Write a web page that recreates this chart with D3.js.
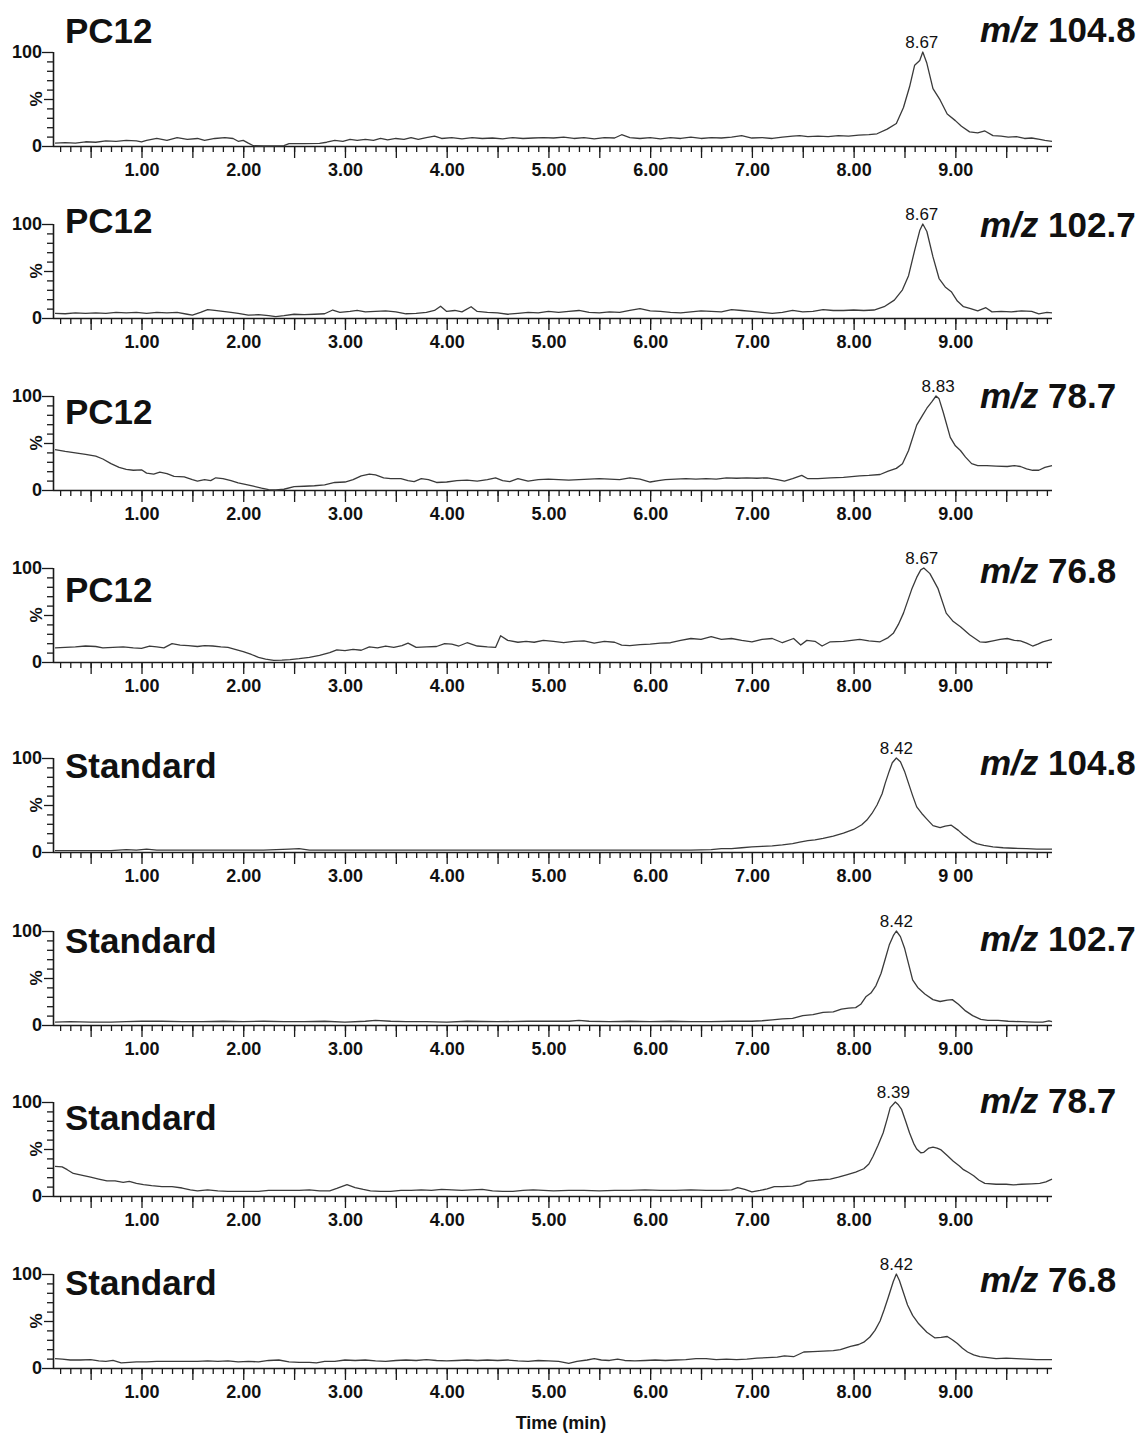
<!DOCTYPE html>
<html>
<head>
<meta charset="utf-8">
<script src="https://cdn.jsdelivr.net/npm/d3@7"></script>
<style>
  html, body { margin: 0; padding: 0; background: #fff; }
  svg { display: block; }
  text { font-family: "Liberation Sans", Arial, Helvetica, sans-serif; fill: #111; }
</style>
</head>
<body>
<svg id="chart" width="1146" height="1435"></svg>
<script>
// ---------------- DATA ----------------
const panelTitles = ["PC12", "PC12", "PC12", "PC12", "Standard", "Standard", "Standard", "Standard"];
const mzValues = ["104.8", "102.7", "78.7", "76.8", "104.8", "102.7", "78.7", "76.8"];
const peakTimes = [8.67, 8.67, 8.83, 8.67, 8.42, 8.42, 8.39, 8.42];
const peakLabels = ["8.67", "8.67", "8.83", "8.67", "8.42", "8.42", "8.39", "8.42"];
const xTickLabels = ["1.00", "2.00", "3.00", "4.00", "5.00", "6.00", "7.00", "8.00", "9.00"];
const xTickLabelsP5 = ["1.00", "2.00", "3.00", "4.00", "5.00", "6.00", "7.00", "8.00", "9 00"];
const yTickLabels = { 0: "0", 100: "100" };
const xAxisTitle = "Time (min)";
const yAxisTitle = "%";

// [time (min), relative intensity (%)]
const pc12_1048 = [[0.15,3],[0.25,3.5],[0.35,3],[0.45,4.5],[0.55,4],[0.65,5.5],[0.75,5],[0.85,6],[0.95,5.5],[1.0,4.5],[1.05,6],[1.15,8],[1.25,6],[1.35,9],[1.45,7],[1.55,8],[1.62,6],[1.72,8],[1.82,9],[1.9,8],[1.95,5],[2.0,6],[2.05,3],[2.1,0.3],[2.2,0],[2.3,0.2],[2.4,0.5],[2.45,2.5],[2.6,2.5],[2.75,2.8],[2.82,4],[2.9,6],[2.98,5],[3.05,7],[3.12,6],[3.2,7],[3.28,6],[3.35,8],[3.42,6.5],[3.5,8],[3.58,7],[3.65,9],[3.72,7],[3.8,9],[3.88,10.5],[3.95,8],[4.05,9],[4.15,7.5],[4.25,9],[4.35,8],[4.45,8.5],[4.55,7.5],[4.65,9],[4.75,8],[4.85,8.5],[4.95,9],[5.05,8.5],[5.15,9.5],[5.25,8],[5.35,9],[5.45,7.5],[5.55,9],[5.65,8.5],[5.72,12],[5.8,9],[5.9,8],[6.0,9],[6.1,7.5],[6.2,9],[6.3,8],[6.4,9.5],[6.5,8],[6.6,9],[6.7,8.5],[6.8,9.5],[6.9,11],[7.0,8.5],[7.1,9],[7.2,8],[7.3,9.5],[7.4,10.5],[7.47,11],[7.55,10],[7.65,10.5],[7.75,10],[7.85,11],[7.95,10.5],[8.05,11.5],[8.15,12],[8.23,13],[8.33,18],[8.42,24],[8.49,41],[8.55,63],[8.60,86],[8.65,91],[8.68,100],[8.72,88],[8.78,61],[8.85,49],[8.92,34],[9.0,27],[9.06,21],[9.14,15],[9.22,14],[9.29,16],[9.37,11],[9.45,10.5],[9.52,9.5],[9.60,10],[9.68,8],[9.75,8.5],[9.83,7],[9.88,6],[9.95,5]];

const pc12_1027 = [[0.15,5],[0.25,4.5],[0.35,5.5],[0.45,5],[0.55,5.5],[0.65,5],[0.75,6],[0.85,5.5],[0.95,6],[1.05,5],[1.15,6],[1.25,5.5],[1.35,6],[1.45,4],[1.5,3],[1.58,6],[1.65,9],[1.72,8],[1.8,7],[1.88,6],[1.95,5],[2.05,3],[2.15,3.5],[2.25,2.5],[2.32,1.5],[2.4,2.5],[2.5,4],[2.6,3.5],[2.7,4],[2.8,4.5],[2.88,8.5],[2.95,6],[3.05,7],[3.12,8],[3.2,6.5],[3.3,7],[3.4,7.5],[3.5,6.5],[3.6,4.5],[3.7,5],[3.8,6],[3.88,8],[3.94,12.5],[4.0,7],[4.08,8],[4.15,6.5],[4.24,12],[4.3,7],[4.4,6],[4.5,5.5],[4.6,4],[4.7,5],[4.8,6],[4.9,5.5],[5.0,7],[5.1,6],[5.2,7],[5.3,8],[5.4,6],[5.5,5.5],[5.6,6.5],[5.7,6],[5.8,8],[5.9,10],[6.0,7.5],[6.1,7],[6.2,6],[6.3,5.5],[6.4,6.5],[6.5,7.5],[6.6,7],[6.7,6.5],[6.8,9],[6.9,8],[7.0,7],[7.1,6],[7.2,5],[7.3,6],[7.4,8],[7.5,6.5],[7.6,7],[7.7,9],[7.8,8],[7.9,8],[8.0,8.5],[8.1,8],[8.2,8.5],[8.3,12],[8.4,19],[8.48,30],[8.54,45],[8.6,72],[8.65,93],[8.68,100],[8.72,92],[8.78,65],[8.84,42],[8.9,33],[8.96,28],[9.02,18],[9.08,12],[9.15,10],[9.22,7.5],[9.3,11],[9.36,6.5],[9.45,7],[9.55,6.5],[9.65,7.5],[9.75,7],[9.82,4.5],[9.9,6],[9.95,5.5]];

const pc12_787 = [[0.15,43],[0.25,41],[0.35,39.5],[0.45,38],[0.55,36],[0.62,33],[0.7,28],[0.78,24],[0.85,22],[0.92,21],[1.0,21.5],[1.05,18],[1.12,17],[1.18,19],[1.25,17.5],[1.32,14.5],[1.42,14],[1.5,11],[1.55,9.5],[1.62,11],[1.68,10],[1.73,13],[1.8,12],[1.88,10],[1.95,7.5],[2.02,6],[2.1,4],[2.18,2],[2.25,0.5],[2.32,0],[2.4,0.8],[2.5,3.5],[2.6,4],[2.7,4.5],[2.8,5.5],[2.9,8],[3.0,8.5],[3.08,11],[3.16,15],[3.24,17],[3.3,16],[3.38,13],[3.45,12],[3.55,12],[3.62,10],[3.68,9],[3.75,12],[3.82,11],[3.9,8],[4.0,8.5],[4.1,10],[4.2,10.5],[4.3,9.5],[4.4,11],[4.48,13],[4.55,10],[4.62,9],[4.7,12],[4.8,9.5],[4.9,11],[5.0,11.5],[5.1,11],[5.2,10.5],[5.3,11],[5.4,11.5],[5.5,12],[5.6,11.5],[5.7,11],[5.8,13],[5.9,11.5],[6.0,8.5],[6.08,10],[6.15,11],[6.25,11.5],[6.35,12],[6.45,11.5],[6.55,12],[6.65,11.5],[6.75,13],[6.85,12.5],[6.95,13],[7.05,12.5],[7.15,13],[7.25,11],[7.32,9.5],[7.4,12],[7.49,15.5],[7.55,12],[7.65,12],[7.77,13],[7.9,13.5],[8.06,15],[8.15,15.5],[8.26,16.5],[8.34,20],[8.42,23],[8.48,28],[8.54,42],[8.62,69],[8.68,80],[8.72,87],[8.77,94],[8.81,100],[8.84,97],[8.88,83],[8.95,56],[9.0,47],[9.05,42],[9.1,35],[9.16,28],[9.22,26],[9.31,26],[9.4,25.5],[9.51,25],[9.58,26],[9.64,25],[9.7,22.5],[9.76,21],[9.82,21],[9.88,24],[9.95,26]];

const pc12_768 = [[0.15,15],[0.25,15.5],[0.35,16],[0.45,17],[0.55,16.5],[0.62,15],[0.72,15.5],[0.82,16],[0.92,15],[1.0,14.5],[1.08,17],[1.15,16],[1.22,15],[1.3,19.5],[1.38,18],[1.46,17.5],[1.55,16.5],[1.62,17.5],[1.7,17],[1.78,16],[1.85,15.5],[1.92,13.5],[2.0,11],[2.08,8],[2.15,5],[2.22,3],[2.3,1.8],[2.38,2],[2.46,2.5],[2.55,3.5],[2.65,5],[2.75,7],[2.85,10],[2.92,13],[3.0,12],[3.08,13.5],[3.16,12.5],[3.24,16],[3.32,15],[3.4,17],[3.48,15.5],[3.56,17.5],[3.62,20],[3.7,15.5],[3.8,16],[3.9,16.5],[3.98,19.5],[4.05,19],[4.12,17],[4.2,20.5],[4.3,17],[4.4,16],[4.48,15.5],[4.53,28],[4.6,23],[4.7,21],[4.78,22],[4.86,21],[4.95,23],[5.05,22],[5.15,20.5],[5.25,22],[5.35,22.5],[5.45,20],[5.55,22],[5.65,21],[5.72,18],[5.8,17.5],[5.9,18.5],[6.0,19],[6.1,20],[6.2,20.5],[6.3,23],[6.4,25],[6.5,24],[6.6,27],[6.7,24],[6.8,25],[6.9,23],[7.0,21.5],[7.1,24],[7.2,25],[7.3,20.5],[7.41,25],[7.48,18],[7.54,23],[7.62,22],[7.69,17],[7.77,21.5],[7.9,22],[8.06,24],[8.15,22.5],[8.26,21.5],[8.34,26],[8.39,30.5],[8.44,40],[8.49,52],[8.57,77],[8.62,90],[8.66,98],[8.69,100],[8.75,94],[8.83,78],[8.91,52],[8.98,43],[9.05,37.5],[9.14,29],[9.24,21.5],[9.3,21],[9.37,22.5],[9.44,24],[9.51,25],[9.58,23],[9.64,22.5],[9.7,20],[9.76,17],[9.81,19],[9.86,21.5],[9.95,24]];

const std_1048 = [[0.15,1.5],[0.4,1.5],[0.7,1.5],[0.85,2.5],[0.95,2],[1.05,3],[1.15,2],[1.4,2],[1.8,2],[2.2,2],[2.45,3],[2.55,3.5],[2.65,2],[3.0,2],[3.5,2],[4.0,2],[4.5,2],[5.0,2],[5.5,2],[6.0,2],[6.4,2],[6.6,2.5],[6.7,3.5],[6.8,3.5],[6.9,4.5],[7.0,5.5],[7.1,6],[7.2,6.5],[7.3,7.5],[7.4,9],[7.47,10.5],[7.55,12],[7.62,13],[7.7,14.5],[7.8,17],[7.9,20],[8.0,24],[8.08,29],[8.13,34],[8.18,41],[8.23,50],[8.28,62],[8.31,73],[8.35,86],[8.38,95],[8.42,100],[8.46,96],[8.5,86],[8.54,73],[8.58,60],[8.62,48],[8.67,41],[8.72,35],[8.78,28],[8.85,26],[8.9,27.5],[8.96,28.5],[9.03,23],[9.08,18],[9.12,15],[9.17,11],[9.21,9],[9.28,7],[9.37,5.5],[9.47,4.5],[9.57,4],[9.7,3.5],[9.8,3],[9.95,3]];

const std_1027 = [[0.15,3],[0.3,3.5],[0.5,3],[0.7,3],[0.85,3.5],[1.0,4],[1.2,4],[1.4,3.5],[1.6,3.5],[1.8,4],[2.0,3.5],[2.2,4],[2.4,3.5],[2.6,3.5],[2.8,4],[3.0,3],[3.2,4],[3.3,5],[3.45,4],[3.6,3.5],[3.8,3.5],[4.0,3],[4.2,4],[4.5,3.5],[4.8,4],[5.0,4],[5.2,4],[5.3,5],[5.4,4],[5.6,3.5],[5.8,4],[6.0,3.5],[6.2,4],[6.4,3.5],[6.6,3.5],[6.8,4],[7.0,4],[7.1,4.5],[7.2,5.5],[7.3,6.5],[7.4,7],[7.5,10],[7.6,11],[7.7,13.5],[7.8,14],[7.88,17],[7.95,18],[8.02,18.5],[8.07,22],[8.12,30],[8.17,34],[8.22,42],[8.27,55],[8.31,70],[8.35,85],[8.39,95],[8.42,100],[8.46,94],[8.5,82],[8.54,65],[8.58,48],[8.63,40],[8.7,33],[8.78,27],[8.85,25],[8.92,26.5],[8.97,27],[9.03,22],[9.1,15],[9.17,10],[9.25,6],[9.32,5],[9.42,5],[9.52,4],[9.65,3.5],[9.78,3],[9.86,3],[9.92,4.5],[9.95,3.5]];

const std_787 = [[0.15,31.5],[0.22,31],[0.27,28],[0.33,24],[0.42,22],[0.5,20],[0.58,18],[0.66,16],[0.74,16],[0.82,14.5],[0.88,15.5],[0.95,13.5],[1.02,12],[1.1,11],[1.2,10],[1.3,10],[1.4,8.5],[1.48,6.5],[1.55,5.5],[1.65,6.5],[1.75,5.5],[1.85,5],[1.95,5],[2.05,5],[2.15,5],[2.25,6],[2.35,6],[2.45,6],[2.55,6],[2.65,6.5],[2.75,5.5],[2.85,5.5],[2.92,8],[3.02,12],[3.1,9],[3.18,7],[3.25,5.5],[3.35,5],[3.45,5],[3.55,6],[3.65,6],[3.75,6.5],[3.85,6],[3.95,7],[4.05,6.5],[4.15,6],[4.25,6.5],[4.35,7],[4.45,5.5],[4.55,5],[4.65,5],[4.75,6],[4.85,6.5],[4.95,6],[5.05,5.5],[5.2,6],[5.35,6],[5.5,5.5],[5.65,6],[5.8,6],[5.95,6.5],[6.1,6],[6.25,6],[6.4,6.5],[6.55,6],[6.7,6],[6.8,6.5],[6.86,9],[6.93,7],[7.0,4.5],[7.08,6],[7.15,7.5],[7.22,10],[7.3,10],[7.4,10.5],[7.47,11.8],[7.54,15.5],[7.65,17],[7.77,18],[7.85,20],[7.93,22.5],[8.02,25.5],[8.1,29],[8.15,34],[8.19,42],[8.24,54],[8.29,67],[8.33,82],[8.36,94],[8.41,100],[8.44,97],[8.47,92.5],[8.51,80],[8.55,67],[8.59,56],[8.62,50],[8.66,46],[8.69,46.5],[8.74,51],[8.78,52],[8.82,51],[8.86,49],[8.92,43],[8.98,37],[9.04,32],[9.08,28],[9.13,25],[9.18,21.5],[9.23,17],[9.29,13.5],[9.4,12.5],[9.5,12.5],[9.57,11.8],[9.65,12.5],[9.75,13],[9.83,13.5],[9.89,15],[9.95,18]];

const std_768 = [[0.15,10],[0.22,9.5],[0.3,8.5],[0.4,8.5],[0.5,9],[0.58,7.5],[0.65,7],[0.72,8],[0.8,5.5],[0.88,6],[0.95,6.5],[1.05,6.5],[1.15,7],[1.25,7],[1.35,7],[1.45,7],[1.55,7],[1.65,7.5],[1.75,7],[1.85,7.5],[1.95,6.5],[2.05,7],[2.15,6.5],[2.25,8],[2.35,8.5],[2.45,6.5],[2.55,6],[2.65,6],[2.72,5.5],[2.8,7],[2.9,7],[3.0,8.5],[3.1,8],[3.2,8.5],[3.3,7.5],[3.4,7],[3.5,8],[3.6,8.5],[3.7,8],[3.8,9],[3.9,8],[4.0,7.5],[4.1,8],[4.2,8.5],[4.3,8],[4.4,8.5],[4.5,8],[4.6,8.5],[4.7,7.5],[4.8,7],[4.9,8],[5.0,7.5],[5.1,7],[5.2,5],[5.28,7],[5.38,8.5],[5.45,10],[5.52,8.5],[5.6,8],[5.68,9.5],[5.75,8],[5.85,7.5],[5.95,8],[6.05,8.5],[6.15,8],[6.25,8.5],[6.35,9],[6.45,10],[6.55,10],[6.65,9],[6.75,9.5],[6.85,9],[6.95,9.5],[7.05,10.5],[7.15,11],[7.25,11.5],[7.32,13],[7.41,12],[7.51,17],[7.6,17.5],[7.7,18],[7.8,18.5],[7.87,19.5],[7.97,23],[8.05,25],[8.1,27.5],[8.16,33],[8.21,40],[8.26,50],[8.3,62],[8.34,75],[8.39,92],[8.42,100],[8.45,93],[8.49,80],[8.53,67],[8.58,56],[8.64,47],[8.72,38],[8.8,32],[8.86,32.5],[8.92,33.5],[8.97,30],[9.02,26],[9.07,21],[9.12,17],[9.18,14],[9.24,12],[9.32,11],[9.4,10],[9.5,10.5],[9.6,10],[9.7,9.5],[9.8,9],[9.88,9],[9.95,9]];

const traces = [pc12_1048, pc12_1027, pc12_787, pc12_768, std_1048, std_1027, std_787, std_768];

// ---------------- LAYOUT ----------------
const W = 1146, H = 1435;
const xLeft = 53, xRight = 1052;
const panelH = 94;
const baselines = [146, 318, 490, 662, 852, 1025, 1196, 1368];
const titleBaselines = [43, 233, 424, 602, 778, 953, 1130, 1295];
const mzBaselines = [42, 237, 408, 583, 775, 951, 1113, 1292];
const timeDomain = [0.13, 9.95];

const svg = d3.select("#chart");
svg.append("rect").attr("width", W).attr("height", H).attr("fill", "#fff");

const x = d3.scaleLinear().domain(timeDomain).range([xLeft, xRight]);
const minorTicks = d3.range(2, 100).map(i => i / 10);
const majorTicks = d3.range(1, 20).map(i => i / 2);

traces.forEach((data, i) => {
  const base = baselines[i];
  const top = base - panelH;
  const y = d3.scaleLinear().domain([0, 100]).range([base, top]);
  const g = svg.append("g");

  // x axis minor ticks
  g.append("g")
    .attr("transform", `translate(0,${base})`)
    .call(d3.axisBottom(x).tickValues(minorTicks).tickSize(6).tickSizeOuter(0).tickFormat(""))
    .call(a => a.select(".domain").remove());

  // x axis major ticks + labels
  const labels = i === 4 ? xTickLabelsP5 : xTickLabels;
  g.append("g")
    .attr("class", "xmajor")
    .attr("transform", `translate(0,${base})`)
    .call(d3.axisBottom(x).tickValues(majorTicks).tickSize(12).tickSizeOuter(0).tickPadding(5)
      .tickFormat(d => Number.isInteger(d) ? labels[d - 1] : ""))
    .call(a => a.select(".domain").attr("d", `M${xLeft},0.5H${xRight}`));

  // y axis
  g.append("g")
    .attr("class", "yax")
    .attr("transform", `translate(${xLeft},0)`)
    .call(d3.axisLeft(y).tickValues(d3.range(0, 101, 10)).tickSizeOuter(0).tickSize(6).tickPadding(1)
      .tickFormat(d => yTickLabels[d] || ""))
    .call(a => {
      a.select(".domain").attr("d", `M0.5,${base}V${top}`);
      a.selectAll(".tick line").attr("x2", d => (d === 0 || d === 100) ? -11 : (d === 50 ? -9 : -6));
      a.selectAll(".tick text").attr("x", -11);
    });

  // "%" label
  g.append("text")
    .attr("transform", `translate(42,${y(50)}) rotate(-90)`)
    .attr("text-anchor", "middle")
    .attr("font-size", 17).attr("font-weight", "bold")
    .text(yAxisTitle);

  // trace
  const line = d3.line().x(d => x(d[0])).y(d => y(d[1]));
  g.append("path")
    .datum(data)
    .attr("d", line)
    .attr("fill", "none")
    .attr("stroke", "#3a3a3a")
    .attr("stroke-width", 1.3)
    .attr("stroke-linejoin", "round");

  // peak label
  g.append("text")
    .attr("x", x(peakTimes[i]))
    .attr("y", top - 4)
    .attr("text-anchor", "middle")
    .attr("font-size", 17)
    .text(peakLabels[i]);

  // panel title
  g.append("text")
    .attr("x", 65).attr("y", titleBaselines[i])
    .attr("font-size", 35).attr("font-weight", "bold")
    .text(panelTitles[i]);

  // m/z label
  const mz = g.append("text")
    .attr("x", 980).attr("y", mzBaselines[i])
    .attr("font-size", 35).attr("font-weight", "bold");
  mz.append("tspan").attr("font-style", "italic").text("m/z");
  mz.append("tspan").text(" " + mzValues[i]);
});

// style axes
svg.selectAll(".domain").attr("stroke", "#1a1a1a").attr("stroke-width", 1.6);
svg.selectAll(".tick line").attr("stroke", "#1a1a1a").attr("stroke-width", 1.3);
svg.selectAll(".xmajor .tick text")
  .attr("font-size", 18).attr("font-weight", "bold").attr("fill", "#111")
  .attr("font-family", '"Liberation Sans", Arial, sans-serif');
svg.selectAll(".yax .tick text")
  .attr("font-size", 18).attr("font-weight", "bold").attr("fill", "#111")
  .attr("font-family", '"Liberation Sans", Arial, sans-serif');

// x axis title
svg.append("text")
  .attr("x", 561).attr("y", 1429)
  .attr("text-anchor", "middle")
  .attr("font-size", 18).attr("font-weight", "bold")
  .text(xAxisTitle);
</script>
</body>
</html>
